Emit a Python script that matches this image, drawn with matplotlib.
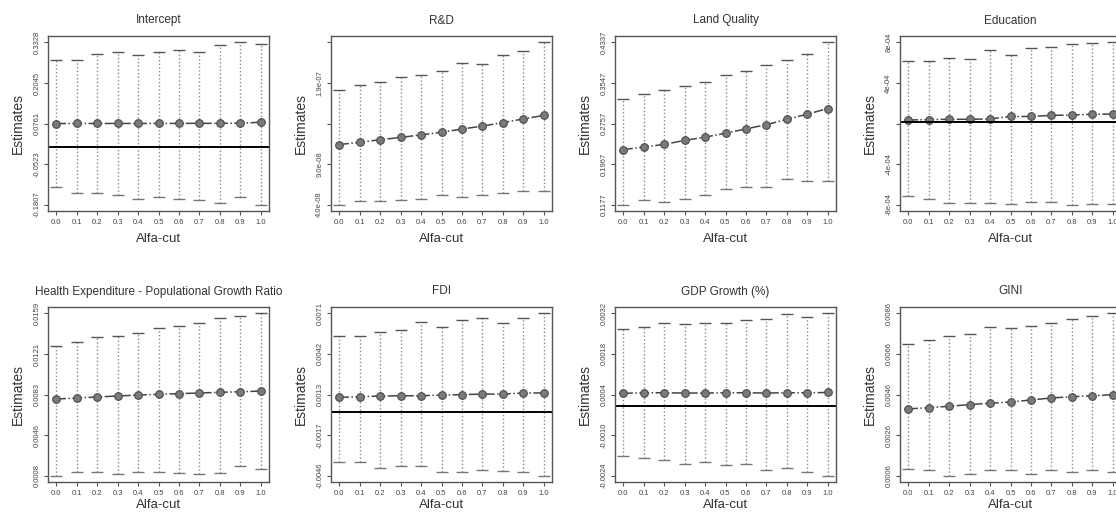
import numpy as np
import matplotlib.pyplot as plt

plt.rcParams['font.family'] = ['Liberation Sans', 'DejaVu Sans']

alpha = [0.0, 0.1, 0.2, 0.3, 0.4, 0.5, 0.6, 0.7, 0.8, 0.9, 1.0]

# estimates with lower / upper bounds for each alpha-cut
intercept_est = [0.0760, 0.0761, 0.0761, 0.0762, 0.0762, 0.0763, 0.0764, 0.0765, 0.0767, 0.0770, 0.0800]
intercept_low = [-0.1267, -0.1454, -0.1454, -0.1516, -0.1641, -0.1579, -0.1641, -0.1660, -0.1755, -0.1579, -0.1807]
intercept_up = [0.2787, 0.2787, 0.2975, 0.3037, 0.2923, 0.3037, 0.3099, 0.3037, 0.3255, 0.3328, 0.3270]

rd_est = [1.14e-07, 1.168e-07, 1.20e-07, 1.228e-07, 1.26e-07, 1.292e-07, 1.332e-07, 1.368e-07, 1.412e-07, 1.456e-07, 1.50e-07]
rd_low = [4.0e-08, 4.48e-08, 4.48e-08, 4.6e-08, 4.68e-08, 5.2e-08, 4.92e-08, 5.12e-08, 5.4e-08, 5.68e-08, 5.68e-08]
rd_up = [1.808e-07, 1.88e-07, 1.912e-07, 1.98e-07, 2.0e-07, 2.052e-07, 2.148e-07, 2.132e-07, 2.248e-07, 2.292e-07, 2.40e-07]

land_est = [0.2247, 0.2299, 0.2350, 0.2427, 0.2491, 0.2568, 0.2651, 0.2735, 0.2837, 0.2940, 0.3049]
land_low = [0.1177, 0.1273, 0.1222, 0.1292, 0.1369, 0.1485, 0.1523, 0.1523, 0.1671, 0.1626, 0.1626]
land_up = [0.3241, 0.3337, 0.3408, 0.3485, 0.3568, 0.3709, 0.3786, 0.3889, 0.3997, 0.4106, 0.4337]

edu_est = [2.5e-05, 2.9e-05, 3.2e-05, 3.2e-05, 3.6e-05, 6.0e-05, 6.0e-05, 7.1e-05, 7.5e-05, 8.2e-05, 8.5e-05]
edu_low = [-7.32e-04, -7.6e-04, -8.02e-04, -8.02e-04, -8.02e-04, -8.1e-04, -7.95e-04, -7.95e-04, -8.2e-04, -8.1e-04, -8.1e-04]
edu_up = [6.17e-04, 6.17e-04, 6.49e-04, 6.31e-04, 7.23e-04, 6.77e-04, 7.40e-04, 7.54e-04, 7.85e-04, 7.95e-04, 8.0e-04]

health_est = [0.00793, 0.00802, 0.00812, 0.00821, 0.00830, 0.00836, 0.00843, 0.00849, 0.00855, 0.00861, 0.00867]
health_low = [0.0008, 0.00117, 0.00117, 0.00096, 0.00117, 0.00117, 0.00102, 0.00096, 0.00105, 0.00173, 0.00142]
health_up = [0.01289, 0.01326, 0.01367, 0.01382, 0.01404, 0.01453, 0.01475, 0.01497, 0.01546, 0.01568, 0.0159]

fdi_est = [0.00104, 0.00109, 0.00114, 0.00116, 0.00116, 0.00121, 0.00124, 0.00128, 0.00128, 0.00136, 0.00136]
fdi_low = [-0.00364, -0.00364, -0.00405, -0.00393, -0.00393, -0.00436, -0.00436, -0.00419, -0.00424, -0.00436, -0.0046]
fdi_up = [0.00549, 0.00549, 0.00573, 0.00592, 0.00645, 0.00609, 0.00662, 0.00674, 0.00638, 0.00676, 0.0071]

gdp_est = [0.00044, 0.00046, 0.00046, 0.00045, 0.00045, 0.00046, 0.00046, 0.00045, 0.00046, 0.00046, 0.00047]
gdp_low = [-0.00171, -0.00179, -0.00185, -0.0020, -0.00194, -0.00202, -0.0020, -0.00221, -0.00214, -0.00229, -0.0024]
gdp_up = [0.00266, 0.00274, 0.00288, 0.00282, 0.00286, 0.00288, 0.00297, 0.00301, 0.00317, 0.00309, 0.0032]

gini_est = [0.00389, 0.00395, 0.00402, 0.00410, 0.00417, 0.00423, 0.00433, 0.00443, 0.00449, 0.00454, 0.00459]
gini_low = [0.00093, 0.00085, 0.0006, 0.00068, 0.00085, 0.00085, 0.00068, 0.00088, 0.00076, 0.00085, 0.00076]
gini_up = [0.00709, 0.00729, 0.00747, 0.00758, 0.00791, 0.00786, 0.00799, 0.00812, 0.00835, 0.00849, 0.0086]

titles = ["Intercept", "R&D", "Land Quality", "Education",
          "Health Expenditure - Populational Growth Ratio", "FDI", "GDP Growth (%)", "GINI"]

# y tick labels (empty where the label is dropped)
ylabels = [
    ["-0.1807", "-0.0523", "0.0761", "0.2045", "0.3328"],
    ["4.0e-08", "9.0e-08", "", "1.9e-07", ""],
    ["0.1177", "0.1967", "0.2757", "0.3547", "0.4337"],
    ["-8e-04", "-4e-04", "", "4e-04", "8e-04"],
    ["0.0008", "0.0046", "0.0083", "0.0121", "0.0159"],
    ["-0.0046", "-0.0017", "0.0013", "0.0042", "0.0071"],
    ["-0.0024", "-0.0010", "0.0004", "0.0018", "0.0032"],
    ["0.0006", "0.0026", "0.0046", "0.0066", "0.0086"],
]

panels = [
    (intercept_est, intercept_low, intercept_up),
    (rd_est, rd_low, rd_up),
    (land_est, land_low, land_up),
    (edu_est, edu_low, edu_up),
    (health_est, health_low, health_up),
    (fdi_est, fdi_low, fdi_up),
    (gdp_est, gdp_low, gdp_up),
    (gini_est, gini_low, gini_up),
]

W, H = 1116, 520
fig = plt.figure(figsize=(W / 100, H / 100), dpi=100)

lefts = [48, 331, 615, 900]
bottoms = [211, 482]
aw, ah = 221, 175

axc = '#555555'
for i, (est, low, up) in enumerate(panels):
    r, c = divmod(i, 4)
    ax = fig.add_axes([lefts[c] / W, 1 - bottoms[r] / H, aw / W, ah / H])

    ax.vlines(alpha, low, up, colors='#8a8a8a', linestyles=':', lw=1.0)
    ax.plot(alpha, up, ls='none', marker='_', ms=8, mew=1.0, color='#555555')
    ax.plot(alpha, low, ls='none', marker='_', ms=8, mew=1.0, color='#777777')
    ax.plot(alpha, est, ls='-.', lw=1.1, color='#444444',
            marker='o', ms=5.5, mfc='#7a7a7a', mec='#4a4a4a', mew=0.8)
    ax.axhline(0, color='black', lw=1.4)

    lo, hi = min(low), max(up)
    rng = hi - lo
    ax.set_ylim(lo - 0.04 * rng, hi + 0.04 * rng)
    ax.set_xlim(-0.04, 1.04)

    ax.set_yticks(np.linspace(lo, hi, 5))
    ax.set_yticklabels(ylabels[i], rotation=90, va='center')
    ax.set_xticks(alpha)
    ax.set_xticklabels([f"{a:.1f}" for a in alpha])
    ax.tick_params(labelsize=5.5, length=3, width=0.8, color=axc,
                   labelcolor='#444444', pad=2.5)

    for s in ax.spines.values():
        s.set_color(axc)
        s.set_linewidth(1.0)

    ax.set_title(titles[i], fontsize=8.5, color='#333333', pad=9)
    ax.set_xlabel("Alfa-cut", fontsize=9.5, color='#333333', labelpad=5 if r == 0 else 2)
    ax.set_ylabel("Estimates", fontsize=10, color='#333333', labelpad=6)

fig.savefig("out.png", dpi=100)
